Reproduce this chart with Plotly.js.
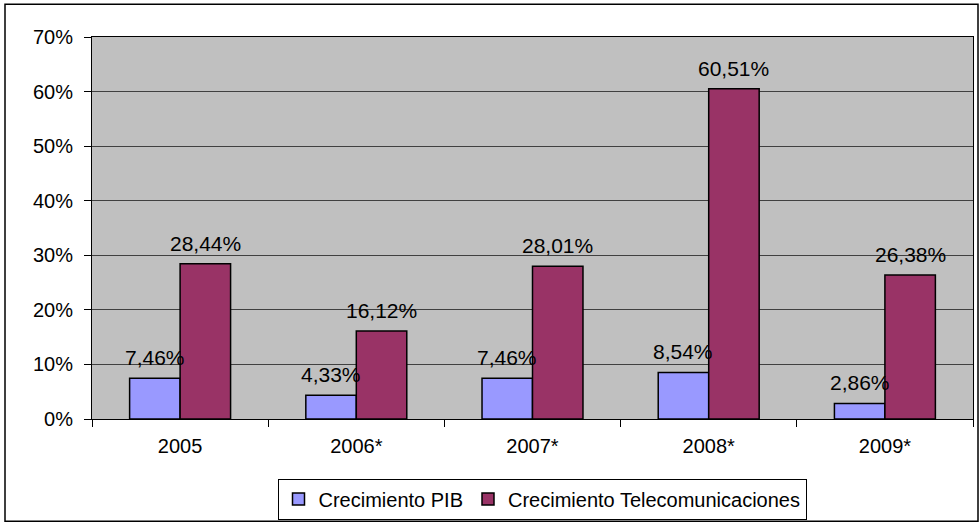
<!DOCTYPE html>
<html>
<head>
<meta charset="utf-8">
<script src="https://cdn.plot.ly/plotly-3.0.1.min.js"></script>
<style>
  html, body { margin: 0; padding: 0; background: #ffffff; }
  #chart { width: 980px; height: 527px; }
</style>
</head>
<body>
<div id="chart"></div>
<script>
const categories = ["2005", "2006*", "2007*", "2008*", "2009*"];
const pibValues = [0.0746, 0.0433, 0.0746, 0.0854, 0.0286];
const telecomValues = [0.2844, 0.1612, 0.2801, 0.6051, 0.2638];
const pibLabels = ["7,46%", "4,33%", "7,46%", "8,54%", "2,86%"];
const telecomLabels = ["28,44%", "16,12%", "28,01%", "60,51%", "26,38%"];
const seriesNames = ["Crecimiento PIB", "Crecimiento Telecomunicaciones"];

const W = 980, H = 527;
const L = 92, R = 7, T = 37, B = 105;
const pw = W - L - R, ph = H - T - B;
const px = v => (v - L) / pw;
const py = v => (H - B - v) / ph;
const BARGAP = 0.427;
const barW = (pw / categories.length) * (1 - BARGAP) / 2;

const font = { family: "Liberation Sans, Arial, sans-serif", color: "#000000" };

const traces = [
  {
    type: "bar", name: seriesNames[0], x: categories, y: pibValues,
    marker: { color: "#9999FF", line: { color: "#000000", width: 1.5 } },
    hoverinfo: "skip"
  },
  {
    type: "bar", name: seriesNames[1], x: categories, y: telecomValues,
    marker: { color: "#993366", line: { color: "#000000", width: 1.5 } },
    hoverinfo: "skip"
  }
];

// category axes: annotation x is the category's serial index
const annotations = [];
function addLabels(values, labels, offset) {
  values.forEach((v, i) => {
    annotations.push({
      x: i, y: v, xref: "x", yref: "y",
      text: labels[i], showarrow: false,
      xanchor: "center", yanchor: "bottom",
      xshift: offset, yshift: 7,
      font: Object.assign({}, font, { size: 21 })
    });
  });
}
addLabels(pibValues, pibLabels, -barW / 2);
addLabels(telecomValues, telecomLabels, barW / 2);

const layout = {
  width: W, height: H,
  margin: { l: L, r: R, t: T, b: B, pad: 0 },
  paper_bgcolor: "#ffffff",
  plot_bgcolor: "#C0C0C0",
  barmode: "group",
  bargap: BARGAP,
  bargroupgap: 0,
  font: Object.assign({}, font, { size: 20 }),
  showlegend: true,
  legend: {
    orientation: "h", x: px(542), xanchor: "center", y: py(482), yanchor: "top",
    bgcolor: "#ffffff", bordercolor: "#000000", borderwidth: 1,
    font: Object.assign({}, font, { size: 20 }),
    traceorder: "normal"
  },
  xaxis: {
    type: "category",
    showline: true, linecolor: "#000000", linewidth: 1, mirror: true,
    ticks: "outside", tickson: "boundaries", ticklen: 7, tickcolor: "#000000",
    ticklabelstandoff: 9,
    tickfont: Object.assign({}, font, { size: 20 }),
    showgrid: false, fixedrange: true
  },
  yaxis: {
    range: [0, 0.7], dtick: 0.1, tick0: 0, tickformat: ".0%",
    showline: true, linecolor: "#000000", linewidth: 1, mirror: true,
    ticks: "outside", ticklen: 7, tickcolor: "#000000",
    ticklabelstandoff: 7,
    tickfont: Object.assign({}, font, { size: 20 }),
    showgrid: true, gridcolor: "#404040", gridwidth: 1,
    zeroline: false, fixedrange: true
  },
  annotations: annotations,
  shapes: [
    {
      type: "rect", xref: "paper", yref: "paper",
      x0: px(5), x1: px(978), y0: py(525), y1: py(4),
      line: { color: "#000000", width: 1.5 }, fillcolor: "rgba(0,0,0,0)", layer: "below"
    }
  ]
};

Plotly.newPlot("chart", traces, layout, { staticPlot: true, displayModeBar: false });
</script>
</body>
</html>
